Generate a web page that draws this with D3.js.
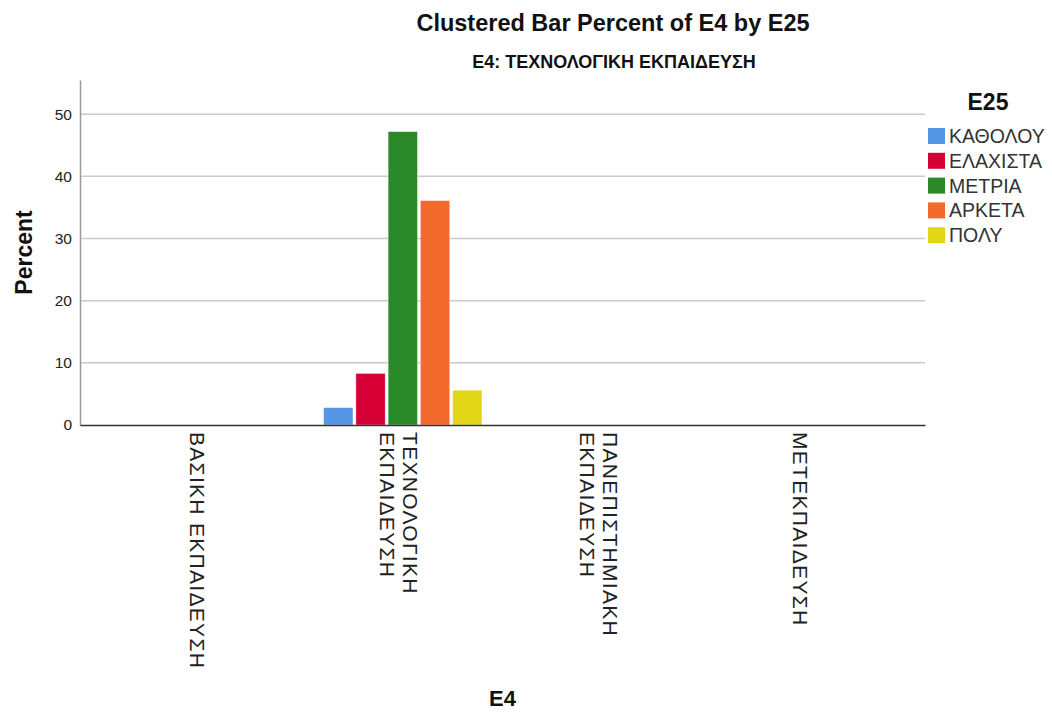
<!DOCTYPE html>
<html>
<head>
<meta charset="utf-8">
<script src="https://cdn.jsdelivr.net/npm/d3@7/dist/d3.min.js"></script>
<style>
  html, body { margin: 0; padding: 0; background: #fff; }
  svg { display: block; font-family: "Liberation Sans", Arial, sans-serif; }
</style>
</head>
<body>
<svg id="chart" width="1052" height="713"></svg>
<script>
// Education level (E4) categories on the x axis; each label is split into display lines
const categories = ["ΒΑΣΙΚΗ ΕΚΠΑΙΔΕΥΣΗ", "ΤΕΧΝΟΛΟΓΙΚΗ ΕΚΠΑΙΔΕΥΣΗ", "ΠΑΝΕΠΙΣΤΗΜΙΑΚΗ ΕΚΠΑΙΔΕΥΣΗ", "ΜΕΤΕΚΠΑΙΔΕΥΣΗ"];
const categoryLines = [["ΒΑΣΙΚΗ ΕΚΠΑΙΔΕΥΣΗ"], ["ΤΕΧΝΟΛΟΓΙΚΗ", "ΕΚΠΑΙΔΕΥΣΗ"], ["ΠΑΝΕΠΙΣΤΗΜΙΑΚΗ", "ΕΚΠΑΙΔΕΥΣΗ"], ["ΜΕΤΕΚΠΑΙΔΕΥΣΗ"]];

// E25 response groups (legend order)
const groups = ["ΚΑΘΟΛΟΥ", "ΕΛΑΧΙΣΤΑ", "ΜΕΤΡΙΑ", "ΑΡΚΕΤΑ", "ΠΟΛΥ"];
const groupColors = ["#5597e4", "#d60036", "#2a8a2a", "#f26b2c", "#e2d716"];

// Percent values per E4 category (rows) and E25 group (columns)
const percentBasic      = [0, 0, 0, 0, 0];
const percentTechnical  = [2.8, 8.3, 47.2, 36.1, 5.6];
const percentUniversity = [0, 0, 0, 0, 0];
const percentPostgrad   = [0, 0, 0, 0, 0];
const percentRows = [percentBasic, percentTechnical, percentUniversity, percentPostgrad];

const yTicks = [0, 10, 20, 30, 40, 50];
const yMax = 55.5;

const svg = d3.select("#chart");
const plot = { left: 80, right: 925, top: 80, bottom: 425 };

const x = d3.scaleBand()
  .domain(categories)
  .range([plot.left, plot.right])
  .paddingInner(0)
  .paddingOuter(0.102);

const xInner = d3.scaleBand()
  .domain(groups)
  .range([-x.bandwidth() * 0.394, x.bandwidth() * 0.394])
  .paddingInner(0.09)
  .paddingOuter(0);

const y = d3.scaleLinear().domain([0, yMax]).range([plot.bottom, plot.top]);

// Horizontal gridlines
svg.append("g")
  .selectAll("line")
  .data(yTicks.filter(d => d > 0))
  .join("line")
  .attr("x1", plot.left).attr("x2", plot.right)
  .attr("y1", d => y(d)).attr("y2", d => y(d))
  .attr("stroke", "#cacaca").attr("stroke-width", 1.5);

// Bars
const rows = percentRows.map((vals, i) => ({ cat: categories[i], vals }));
svg.append("g")
  .selectAll("g")
  .data(rows)
  .join("g")
  .attr("transform", d => `translate(${x(d.cat) + x.bandwidth() / 2 + 0.8},0)`)
  .selectAll("rect")
  .data(d => d.vals.map((v, j) => ({ group: groups[j], value: v, color: groupColors[j] })).filter(d => d.value > 0))
  .join("rect")
  .attr("x", d => xInner(d.group))
  .attr("width", xInner.bandwidth())
  .attr("y", d => y(d.value))
  .attr("height", d => y(0) - y(d.value))
  .attr("fill", d => d.color)
  .attr("stroke", "#ffffff").attr("stroke-opacity", 0.5).attr("stroke-width", 0.8);

// Y axis
const yAxis = svg.append("g")
  .attr("transform", `translate(${plot.left},0)`)
  .call(d3.axisLeft(y).tickValues(yTicks).tickSize(0).tickPadding(8).tickFormat(d3.format("d")));
yAxis.select(".domain").attr("stroke", "#9a9a9a").attr("stroke-width", 1.5);
yAxis.selectAll("text")
  .attr("font-size", 15.5).attr("fill", "#222")
  .attr("font-family", "'Liberation Sans', Arial, sans-serif");

// X axis baseline
const xAxis = svg.append("g")
  .attr("transform", `translate(0,${plot.bottom})`)
  .call(d3.axisBottom(x).tickSize(0).tickFormat(""));
xAxis.select(".domain").attr("stroke", "#333").attr("stroke-width", 1.5);

// Rotated category labels, reading top to bottom
const labelG = svg.append("g");
categories.forEach((c, i) => {
  const lines = categoryLines[i];
  const cx = x(c) + x.bandwidth() / 2;
  const lineH = 23;
  const offset = (lines.length - 1) * lineH / 2;
  const t = labelG.append("text")
    .attr("transform", `translate(${cx + offset - 11},${plot.bottom + 7}) rotate(90)`)
    .attr("font-size", 21)
    .attr("letter-spacing", 1.3)
    .attr("fill", "#222")
    .attr("text-anchor", "start");
  lines.forEach((ln, k) => {
    t.append("tspan").attr("x", 0).attr("dy", k === 0 ? 0 : lineH).text(ln);
  });
});

// Titles
svg.append("text")
  .attr("x", 613).attr("y", 31)
  .attr("text-anchor", "middle")
  .attr("font-size", 23.5).attr("font-weight", "bold").attr("fill", "#111")
  .text("Clustered Bar Percent of E4 by E25");

svg.append("text")
  .attr("x", 614).attr("y", 68)
  .attr("text-anchor", "middle")
  .attr("font-size", 18).attr("font-weight", "bold").attr("fill", "#111")
  .text("E4: ΤΕΧΝΟΛΟΓΙΚΗ ΕΚΠΑΙΔΕΥΣΗ");

// Axis titles
svg.append("text")
  .attr("transform", `translate(32,${(plot.top + plot.bottom) / 2}) rotate(-90)`)
  .attr("text-anchor", "middle")
  .attr("font-size", 23).attr("font-weight", "bold").attr("fill", "#111")
  .text("Percent");

svg.append("text")
  .attr("x", (plot.left + plot.right) / 2).attr("y", 706)
  .attr("text-anchor", "middle")
  .attr("font-size", 22).attr("font-weight", "bold").attr("fill", "#111")
  .text("E4");

// Legend
const legend = svg.append("g").attr("transform", "translate(928,0)");
legend.append("text")
  .attr("x", 60).attr("y", 110)
  .attr("text-anchor", "middle")
  .attr("font-size", 23).attr("font-weight", "bold").attr("fill", "#111")
  .text("E25");
groups.forEach((g, i) => {
  const yy = 128 + i * 24.8;
  legend.append("rect")
    .attr("x", 0).attr("y", yy).attr("width", 17).attr("height", 16)
    .attr("fill", groupColors[i]);
  legend.append("text")
    .attr("x", 21).attr("y", yy + 15)
    .attr("font-size", 19.5).attr("fill", "#333")
    .text(g);
});
</script>
</body>
</html>
